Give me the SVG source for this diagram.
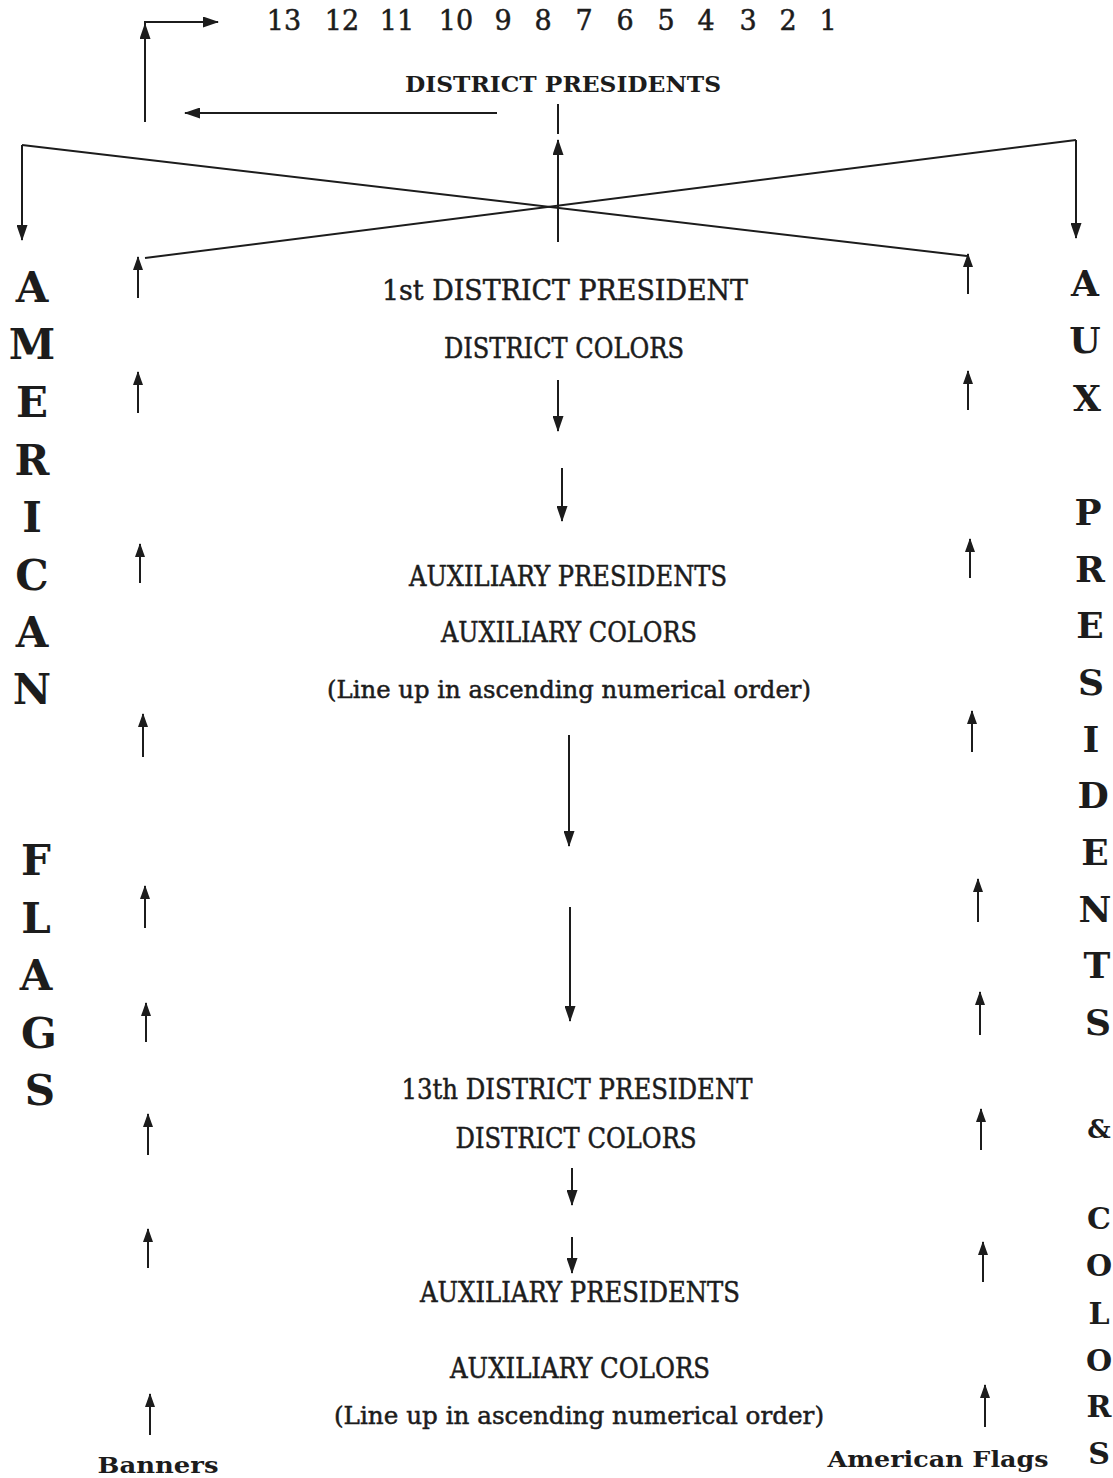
<svg xmlns="http://www.w3.org/2000/svg" width="1113" height="1478" viewBox="0 0 1113 1478">
<defs>
<style>
.t{font-family:"DejaVu Serif","Liberation Serif",serif;fill:#1c1c1c;}
.r{stroke:#1c1c1c;stroke-width:0.5;}
.c{text-anchor:middle;}
.b{font-weight:bold;}
.ln{stroke:#1c1c1c;stroke-width:2;fill:none;}
.lt{font-size:42px;}
.rt{font-size:36px;}
.ct{font-size:28px;}
.num{font-size:27px;}
</style>
<marker id="ah" markerUnits="userSpaceOnUse" markerWidth="16" markerHeight="11" viewBox="0 0 16 11" refX="15" refY="5.5" orient="auto">
<path d="M0,0 L16,5.5 L0,11 z" fill="#1c1c1c"/>
</marker>
<marker id="as" markerUnits="userSpaceOnUse" markerWidth="14" markerHeight="10" viewBox="0 0 14 10" refX="13" refY="5" orient="auto">
<path d="M0,0 L14,5 L0,10 z" fill="#1c1c1c"/>
</marker>
</defs>
<rect width="1113" height="1478" fill="#ffffff"/>

<g id="numbers" class="t r num c">
<text x="284" y="30">13</text>
<text x="342" y="30">12</text>
<text x="397" y="30">11</text>
<text x="456" y="30">10</text>
<text x="503" y="30">9</text>
<text x="543" y="30">8</text>
<text x="584" y="30">7</text>
<text x="625" y="30">6</text>
<text x="666" y="30">5</text>
<text x="706" y="30">4</text>
<text x="748" y="30">3</text>
<text x="788" y="30">2</text>
<text x="828" y="30">1</text>
</g>

<g id="district-presidents"><text class="t b c" x="563" y="92" font-size="23" textLength="316" lengthAdjust="spacingAndGlyphs">DISTRICT PRESIDENTS</text></g>

<g id="first-district"><text class="t r ct c" x="565" y="300" textLength="366" lengthAdjust="spacingAndGlyphs">1st DISTRICT PRESIDENT</text></g>
<g id="first-colors"><text class="t r ct c" x="564" y="358" font-size="25" textLength="240" lengthAdjust="spacingAndGlyphs">DISTRICT COLORS</text></g>
<g id="aux-pres-1"><text class="t r ct c" x="568" y="586" font-size="25" textLength="318" lengthAdjust="spacingAndGlyphs">AUXILIARY PRESIDENTS</text></g>
<g id="aux-colors-1"><text class="t r ct c" x="569" y="642" font-size="25" textLength="256" lengthAdjust="spacingAndGlyphs">AUXILIARY COLORS</text></g>
<g id="lineup-1"><text class="t r c" x="569" y="698" font-size="24" textLength="484" lengthAdjust="spacingAndGlyphs">(Line up in ascending numerical order)</text></g>

<g id="thirteenth-district"><text class="t r ct c" x="577" y="1099" textLength="351" lengthAdjust="spacingAndGlyphs">13th DISTRICT PRESIDENT</text></g>
<g id="thirteenth-colors"><text class="t r ct c" x="576" y="1148" font-size="25" textLength="241" lengthAdjust="spacingAndGlyphs">DISTRICT COLORS</text></g>
<g id="aux-pres-2"><text class="t r ct c" x="580" y="1302" font-size="25" textLength="320" lengthAdjust="spacingAndGlyphs">AUXILIARY PRESIDENTS</text></g>
<g id="aux-colors-2"><text class="t r ct c" x="580" y="1378" font-size="25" textLength="260" lengthAdjust="spacingAndGlyphs">AUXILIARY COLORS</text></g>
<g id="lineup-2"><text class="t r c" x="579" y="1424" font-size="24" textLength="490" lengthAdjust="spacingAndGlyphs">(Line up in ascending numerical order)</text></g>

<g id="banners"><text class="t b c" x="158" y="1473" font-size="22" textLength="121" lengthAdjust="spacingAndGlyphs">Banners</text></g>
<g id="american-flags-label"><text class="t b c" x="938" y="1467" font-size="23" textLength="221" lengthAdjust="spacingAndGlyphs">American Flags</text></g>

<g id="american-flags-column" class="t b lt c">
<text x="32" y="302">A</text>
<text x="32" y="359">M</text>
<text x="32" y="417">E</text>
<text x="32" y="475">R</text>
<text x="32" y="532">I</text>
<text x="32" y="590">C</text>
<text x="32" y="647">A</text>
<text x="32" y="704">N</text>
<text x="36" y="875">F</text>
<text x="36" y="933">L</text>
<text x="36" y="990">A</text>
<text x="39" y="1048">G</text>
<text x="40" y="1105">S</text>
</g>

<g id="aux-presidents-column" class="t b rt c">
<text x="1085" y="296">A</text>
<text x="1085" y="353">U</text>
<text x="1087" y="411">X</text>
<text x="1088" y="525">P</text>
<text x="1090" y="582">R</text>
<text x="1090" y="638">E</text>
<text x="1091" y="695">S</text>
<text x="1091" y="752">I</text>
<text x="1093" y="808">D</text>
<text x="1095" y="865">E</text>
<text x="1095" y="922">N</text>
<text x="1097" y="978">T</text>
<text x="1098" y="1035">S</text>
<text x="1099" y="1138" font-size="26">&amp;</text>
<text x="1099" y="1229" font-size="30">C</text>
<text x="1099" y="1276" font-size="30">O</text>
<text x="1099" y="1324" font-size="30">L</text>
<text x="1099" y="1371" font-size="30">O</text>
<text x="1099" y="1417" font-size="30">R</text>
<text x="1099" y="1464" font-size="30">S</text>
</g>

<g id="connectors">
<polyline class="ln" points="145,122 145,22 218,22" marker-end="url(#ah)"/>
<line class="ln" x1="145" y1="122" x2="145" y2="24" marker-end="url(#ah)"/>
<line class="ln" x1="497" y1="113" x2="185" y2="113" marker-end="url(#ah)"/>
<line class="ln" x1="558" y1="104" x2="558" y2="134"/>
<line class="ln" x1="558" y1="242" x2="558" y2="140" marker-end="url(#ah)"/>
<polyline class="ln" points="22,145 22,240" marker-end="url(#ah)"/>
<line class="ln" x1="22" y1="145" x2="967" y2="256"/>
<line class="ln" x1="1076" y1="140" x2="145" y2="258"/>
<polyline class="ln" points="1076,140 1076,238" marker-end="url(#ah)"/>

<line class="ln" x1="558" y1="380" x2="558" y2="431" marker-end="url(#ah)"/>
<line class="ln" x1="562" y1="468" x2="562" y2="521" marker-end="url(#ah)"/>
<line class="ln" x1="569" y1="735" x2="569" y2="846" marker-end="url(#ah)"/>
<line class="ln" x1="570" y1="907" x2="570" y2="1021" marker-end="url(#ah)"/>
<line class="ln" x1="572" y1="1168" x2="572" y2="1205" marker-end="url(#ah)"/>
<line class="ln" x1="572" y1="1237" x2="572" y2="1273" marker-end="url(#ah)"/>

<line class="ln" x1="138" y1="298" x2="138" y2="257" marker-end="url(#as)"/>
<line class="ln" x1="138" y1="413" x2="138" y2="372" marker-end="url(#as)"/>
<line class="ln" x1="140" y1="583" x2="140" y2="544" marker-end="url(#as)"/>
<line class="ln" x1="143" y1="757" x2="143" y2="714" marker-end="url(#as)"/>
<line class="ln" x1="145" y1="928" x2="145" y2="886" marker-end="url(#as)"/>
<line class="ln" x1="146" y1="1042" x2="146" y2="1003" marker-end="url(#as)"/>
<line class="ln" x1="148" y1="1155" x2="148" y2="1114" marker-end="url(#as)"/>
<line class="ln" x1="148" y1="1268" x2="148" y2="1229" marker-end="url(#as)"/>
<line class="ln" x1="150" y1="1435" x2="150" y2="1394" marker-end="url(#as)"/>

<line class="ln" x1="968" y1="294" x2="968" y2="254" marker-end="url(#as)"/>
<line class="ln" x1="968" y1="410" x2="968" y2="371" marker-end="url(#as)"/>
<line class="ln" x1="970" y1="578" x2="970" y2="539" marker-end="url(#as)"/>
<line class="ln" x1="972" y1="752" x2="972" y2="711" marker-end="url(#as)"/>
<line class="ln" x1="978" y1="922" x2="978" y2="879" marker-end="url(#as)"/>
<line class="ln" x1="980" y1="1035" x2="980" y2="992" marker-end="url(#as)"/>
<line class="ln" x1="981" y1="1150" x2="981" y2="1109" marker-end="url(#as)"/>
<line class="ln" x1="983" y1="1282" x2="983" y2="1242" marker-end="url(#as)"/>
<line class="ln" x1="985" y1="1427" x2="985" y2="1385" marker-end="url(#as)"/>
</g>
</svg>
